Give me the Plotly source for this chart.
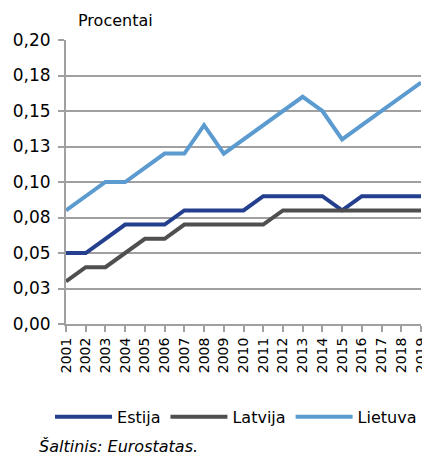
import plotly.graph_objects as go

years = [str(y) for y in range(2001, 2020)]
estija = [0.05, 0.05, 0.06, 0.07, 0.07, 0.07, 0.08, 0.08, 0.08, 0.08,
          0.09, 0.09, 0.09, 0.09, 0.08, 0.09, 0.09, 0.09, 0.09]
latvija = [0.03, 0.04, 0.04, 0.05, 0.06, 0.06, 0.07, 0.07, 0.07, 0.07,
           0.07, 0.08, 0.08, 0.08, 0.08, 0.08, 0.08, 0.08, 0.08]
lietuva = [0.08, 0.09, 0.10, 0.10, 0.11, 0.12, 0.12, 0.14, 0.12, 0.13,
           0.14, 0.15, 0.16, 0.15, 0.13, 0.14, 0.15, 0.16, 0.17]
y_ticks = [0, 0.025, 0.05, 0.075, 0.1, 0.125, 0.15, 0.175, 0.2]
y_labels = ["0,00", "0,03", "0,05", "0,08", "0,10", "0,13", "0,15", "0,18", "0,20"]

font = "DejaVu Sans, Verdana, sans-serif"

fig = go.Figure()
fig.add_trace(go.Scatter(x=years, y=estija, name="Estija", mode="lines",
                         line=dict(color="#243f8e", width=4)))
fig.add_trace(go.Scatter(x=years, y=latvija, name="Latvija", mode="lines",
                         line=dict(color="#4f4f4f", width=4)))
fig.add_trace(go.Scatter(x=years, y=lietuva, name="Lietuva", mode="lines",
                         line=dict(color="#5b9bd0", width=4)))

# page body keeps the browser's 8px margin, so the figure is 8px smaller
fig.update_layout(
    width=422, height=449,
    margin=dict(l=58, r=9, t=32, b=133),
    plot_bgcolor="white", paper_bgcolor="white",
    font=dict(family=font, color="black"),
    showlegend=True,
    legend=dict(orientation="h", x=-0.045, xanchor="left",
                y=-0.327, yanchor="middle",
                font=dict(size=16), itemwidth=57, tracegroupgap=0,
                bgcolor="rgba(0,0,0,0)"),
)
fig.update_xaxes(
    type="category", tickangle=-90, tickfont=dict(size=14), automargin=False,
    ticklabeloverflow="allow",
    showline=True, linecolor="#a0a0a0", linewidth=2,
    ticks="outside", ticklen=6, tickcolor="#a0a0a0", tickwidth=2,
    showgrid=False, range=[0, 18],
)
fig.update_yaxes(
    range=[0, 0.2], tickvals=y_ticks, ticktext=y_labels, tickfont=dict(size=17),
    automargin=False, ticklabelstandoff=4,
    showline=True, linecolor="#a0a0a0", linewidth=2,
    ticks="outside", ticklen=6, tickcolor="#a0a0a0", tickwidth=2,
    showgrid=True, gridcolor="#a0a0a0", gridwidth=2, zeroline=False,
)
fig.add_annotation(text="Procentai", xref="paper", yref="paper",
                   x=0.139, y=1.07, xanchor="center", yanchor="middle",
                   showarrow=False, font=dict(size=16))
fig.add_annotation(text="<i>Šaltinis: Eurostatas.</i>", xref="paper", yref="paper",
                   x=-0.082, y=-0.43, xanchor="left", yanchor="middle",
                   showarrow=False, font=dict(size=16))

fig.write_html("out.html")
